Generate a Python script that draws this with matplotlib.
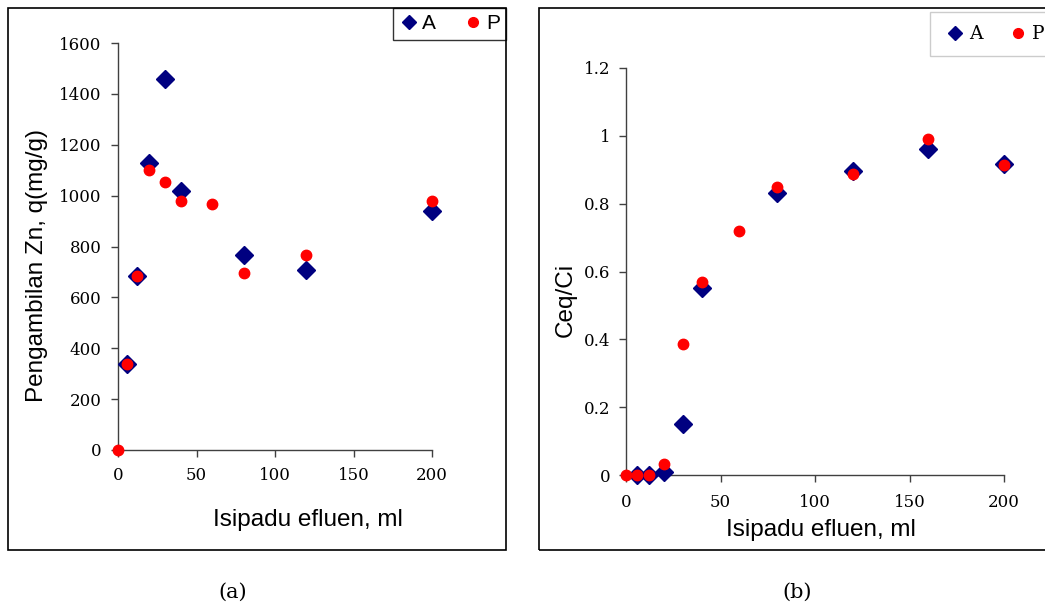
import matplotlib.pyplot as plt
from matplotlib.patches import Rectangle

# (a) Zn uptake vs effluent volume
vol_a_A = [6, 12, 20, 30, 40, 80, 120, 200]
q_A = [340, 683, 1130, 1460, 1020, 765, 707, 938]
vol_a_P = [0, 6, 12, 20, 30, 40, 60, 80, 120, 200]
q_P = [0, 340, 683, 1100, 1055, 980, 968, 695, 765, 980]

# (b) breakthrough Ceq/Ci
vol_b_A = [6, 12, 20, 30, 40, 80, 120, 160, 200]
c_A = [0, 0, 0.01, 0.15, 0.55, 0.83, 0.895, 0.96, 0.918]
vol_b_P = [0, 6, 12, 20, 30, 40, 60, 80, 120, 160, 200]
c_P = [0, 0, 0, 0.033, 0.385, 0.57, 0.72, 0.848, 0.888, 0.992, 0.915]

x_ticks = [0, 50, 100, 150, 200]
ya_ticks = [0, 200, 400, 600, 800, 1000, 1200, 1400, 1600]
yb_ticks = [0, 0.2, 0.4, 0.6, 0.8, 1, 1.2]
yb_labels = ["0", "0.2", "0.4", "0.6", "0.8", "1", "1.2"]

NAVY = "#000080"
RED = "#ff0000"
SERIF = "DejaVu Serif"
SANS = "Liberation Sans"

fig = plt.figure(figsize=(10.45, 6.05), dpi=100)
W, H = 1045, 605


def px_axes(x0, x1, ytop, ybot):
    return fig.add_axes([x0 / W, (H - ybot) / H, (x1 - x0) / W, (ybot - ytop) / H])


def frame(x0, x1, ytop, ybot):
    fig.patches.append(Rectangle((x0 / W, (H - ybot) / H), (x1 - x0) / W, (ybot - ytop) / H,
                                 transform=fig.transFigure, fill=False, edgecolor="black",
                                 linewidth=1.2, zorder=0))


def style(ax, ypad, xpad):
    for s in ["top", "right"]:
        ax.spines[s].set_visible(False)
    for s in ["left", "bottom"]:
        ax.spines[s].set_color("#404040")
        ax.spines[s].set_linewidth(1.0)
    ax.tick_params(axis="both", direction="out", length=5, width=1, color="#404040",
                   labelsize=12)
    ax.tick_params(axis="y", pad=ypad)
    ax.tick_params(axis="x", pad=xpad)
    for lab in ax.get_xticklabels() + ax.get_yticklabels():
        lab.set_fontfamily(SERIF)


frame(8, 506, 8, 550)
frame(539, 1060, 8, 550)

# panel (a)
ax1 = px_axes(118, 432, 43, 450)
ax1.plot(vol_a_A, q_A, "D", color=NAVY, markersize=9, label="A", clip_on=False, zorder=3)
ax1.plot(vol_a_P, q_P, "o", color=RED, markersize=7.5, label="P", clip_on=False, zorder=4)
ax1.set_xlim(0, 200)
ax1.set_ylim(0, 1600)
ax1.set_xticks(x_ticks)
ax1.set_yticks(ya_ticks)
style(ax1, 7, 7)
ax1.set_xlabel("Isipadu efluen, ml", fontsize=17.5, family=SANS, va="center")
ax1.xaxis.set_label_coords(0.605, -0.172)
ax1.set_ylabel("Pengambilan Zn, q(mg/g)", fontsize=17.5, family=SANS, va="center")
ax1.yaxis.set_label_coords(-0.258, 0.4545)
leg1 = ax1.legend(loc="upper right", bbox_to_anchor=(506 / W, (H - 8) / H),
                  bbox_transform=fig.transFigure, ncol=2, frameon=True, fancybox=False,
                  prop={"family": SANS, "size": 15}, handletextpad=0.1, columnspacing=1.3,
                  borderpad=0.3, handlelength=1.0, borderaxespad=0)
leg1.get_frame().set_edgecolor("black")
leg1.get_frame().set_linewidth(1.0)
for h in leg1.legend_handles:
    h.set_markersize(7)

# panel (b)
ax2 = px_axes(626, 1004, 68, 475)
ax2.plot(vol_b_A, c_A, "D", color=NAVY, markersize=9, label="A", clip_on=False, zorder=3)
ax2.plot(vol_b_P, c_P, "o", color=RED, markersize=7.5, label="P", clip_on=False, zorder=4)
ax2.set_xlim(0, 200)
ax2.set_ylim(0, 1.2)
ax2.set_xticks(x_ticks)
ax2.set_yticks(yb_ticks)
ax2.set_yticklabels(yb_labels)
style(ax2, 6, 9)
ax2.set_xlabel("Isipadu efluen, ml", fontsize=17.5, family=SANS, va="center")
ax2.xaxis.set_label_coords(0.516, -0.135)
ax2.set_ylabel("Ceq/Ci", fontsize=17.5, family=SANS, va="center")
ax2.yaxis.set_label_coords(-0.159, 0.43)
leg2 = ax2.legend(loc="upper left", bbox_to_anchor=(930 / W, (H - 12) / H),
                  bbox_transform=fig.transFigure, ncol=2, frameon=True, fancybox=False,
                  prop={"family": SERIF, "size": 13.5}, handletextpad=0.1, columnspacing=1.2,
                  borderpad=0.7, handlelength=1.3, borderaxespad=0)
leg2.get_frame().set_edgecolor("#c0c0c0")
leg2.get_frame().set_linewidth(1.0)
for h in leg2.legend_handles:
    h.set_markersize(7)

fig.text(233 / W, (H - 592) / H, "(a)", ha="center", va="center", family=SERIF, fontsize=15)
fig.text(797 / W, (H - 592) / H, "(b)", ha="center", va="center", family=SERIF, fontsize=15)

fig.savefig("out.png", dpi=100)
